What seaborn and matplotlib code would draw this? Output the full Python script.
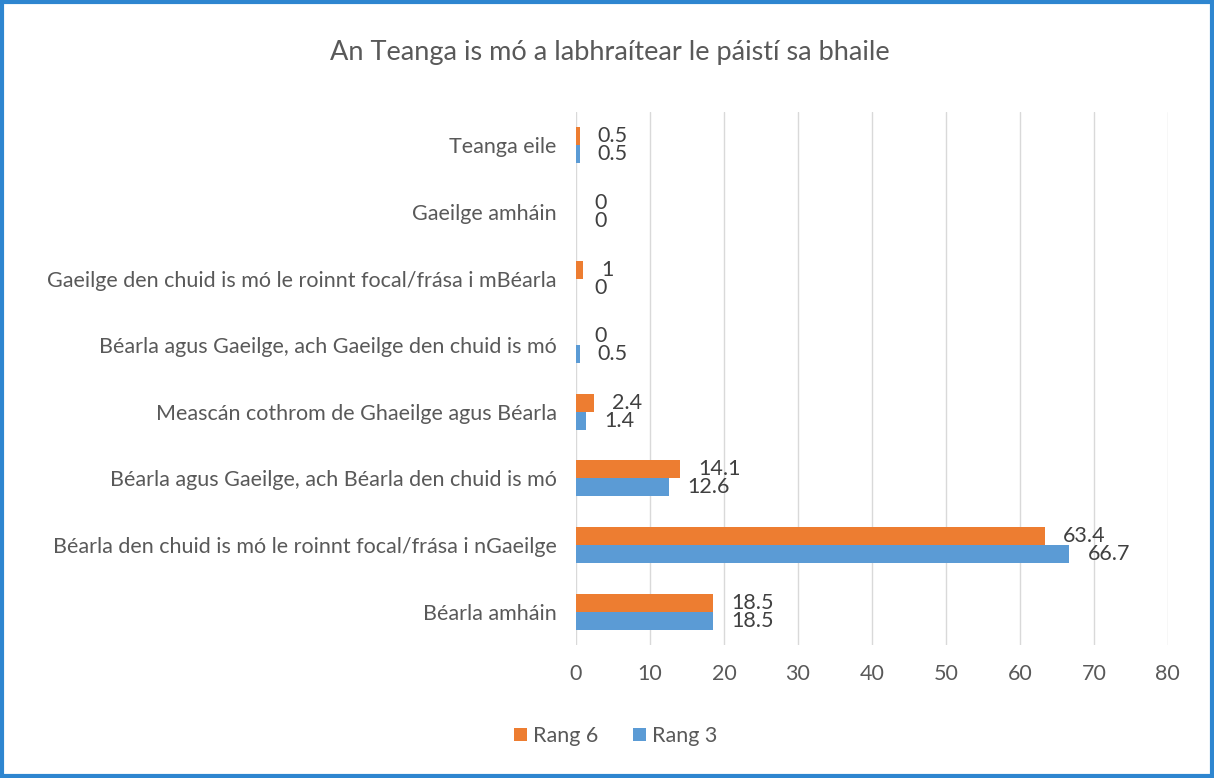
import pandas as pd
import matplotlib.pyplot as plt
import seaborn as sns
from matplotlib.patches import Rectangle

# categorias de arriba a abajo
catagoir = [
    "Teanga eile",
    "Gaeilge amháin",
    "Gaeilge den chuid is mó le roinnt focal/frása i mBéarla",
    "Béarla agus Gaeilge, ach Gaeilge den chuid is mó",
    "Meascán cothrom de Ghaeilge agus Béarla",
    "Béarla agus Gaeilge, ach Béarla den chuid is mó",
    "Béarla den chuid is mó le roinnt focal/frása i nGaeilge",
    "Béarla amháin",
]
rang6 = [0.5, 0, 1, 0, 2.4, 14.1, 63.4, 18.5]
rang3 = [0.5, 0, 0, 0.5, 1.4, 12.6, 66.7, 18.5]
sraith = ["Rang 6", "Rang 3"]
dathanna = ["#ED7D31", "#5B9BD5"]
ticks_x = [0, 10, 20, 30, 40, 50, 60, 70, 80]

df = pd.DataFrame({
    "Catagoir": catagoir * 2,
    "Luach": rang6 + rang3,
    "Rang": [sraith[0]] * len(catagoir) + [sraith[1]] * len(catagoir),
})

sns.set_style("white")
plt.rcParams["font.family"] = ["Lato", "DejaVu Sans"]
gris = "#595959"
fs = 15.5

fig = plt.figure(figsize=(12.14, 7.78), dpi=100)
ax = fig.add_axes([0.4745, 0.171, 0.4875, 0.685])

sns.barplot(data=df, y="Catagoir", x="Luach", hue="Rang", order=catagoir,
            hue_order=sraith, palette=dathanna, orient="h", width=0.54,
            saturation=1, linewidth=0, ax=ax, legend=True)

for cont in ax.containers:
    ax.bar_label(cont, labels=[f"{v:g}" for v in cont.datavalues],
                 padding=13, fontsize=fs, color="#404040")

ax.set_xlim(0, 80)
ax.set_xticks(ticks_x)
ax.xaxis.grid(True, color="#D9D9D9", linewidth=1)
ax.set_axisbelow(True)
for s in ax.spines.values():
    s.set_visible(False)
ax.set_xlabel("")
ax.set_ylabel("")
ax.tick_params(axis="both", length=0, labelsize=fs, labelcolor=gris)
ax.tick_params(axis="x", pad=14)
ax.tick_params(axis="y", pad=14)

handles, labels = ax.get_legend_handles_labels()
ax.get_legend().remove()
fig.legend(handles, labels, loc="center", bbox_to_anchor=(0.507, 0.054), ncol=2,
           frameon=False, fontsize=fs, labelcolor=gris, handlelength=0.6,
           handleheight=0.6, handletextpad=0.3, columnspacing=1.6)

fig.suptitle("An Teanga is mó a labhraítear le páistí sa bhaile",
             x=0.502, y=0.948, fontsize=19.5, color=gris)

fig.patches.append(Rectangle((0.002, 0.003), 0.996, 0.994, transform=fig.transFigure,
                             fill=False, edgecolor="#2E86D0", linewidth=3))

plt.savefig("out.png", dpi=100)
